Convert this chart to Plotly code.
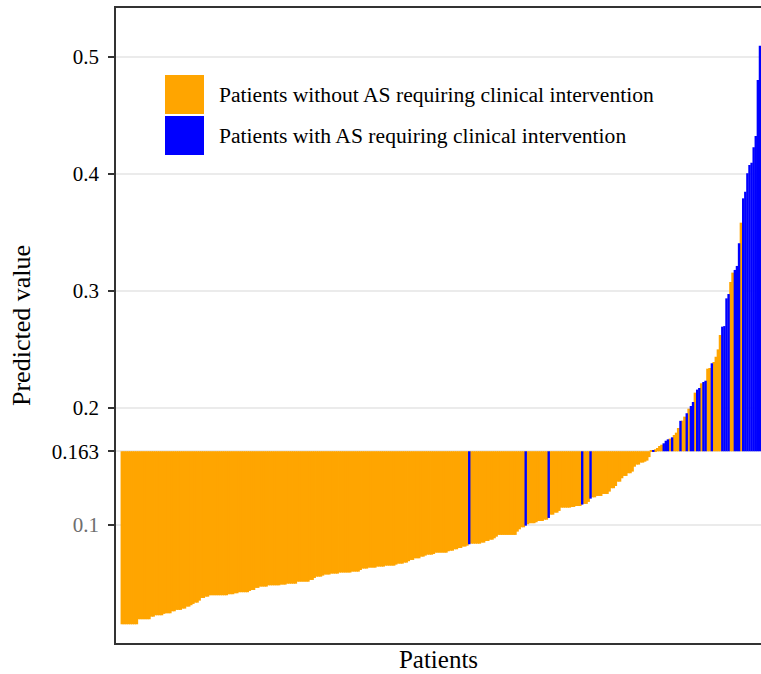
import plotly.graph_objects as go

# ---------------- data ----------------
threshold = 0.163

# predicted values, patients WITHOUT AS requiring clinical intervention
without_as = [
    0.0151, 0.0151, 0.0151, 0.0151, 0.0151, 0.0151, 0.0151, 0.0151,
    0.0194, 0.0194, 0.0194, 0.0194, 0.0194, 0.0194,
    0.0216, 0.0216,
    0.0228, 0.0228, 0.0228, 0.0228,
    0.0240,
    0.0245, 0.0245, 0.0245,
    0.0262, 0.0262,
    0.0274, 0.0274, 0.0274,
    0.0285, 0.0285,
    0.0302, 0.0302,
    0.0314,
    0.0325,
    0.0336, 0.0336,
    0.0353,
    0.0376, 0.0376,
    0.0387, 0.0387,
    0.0399, 0.0399, 0.0399, 0.0399, 0.0399, 0.0399, 0.0399, 0.0399, 0.0399,
    0.0408, 0.0408, 0.0408,
    0.0416, 0.0416,
    0.0425, 0.0425, 0.0425, 0.0425, 0.0425,
    0.0436,
    0.0444, 0.0444,
    0.0462, 0.0462,
    0.0473, 0.0473, 0.0473, 0.0473,
    0.0484, 0.0484, 0.0484, 0.0484, 0.0484, 0.0484,
    0.0490, 0.0490, 0.0490,
    0.0498, 0.0498, 0.0498, 0.0498, 0.0498,
    0.0515, 0.0515, 0.0515, 0.0515, 0.0515, 0.0515,
    0.0530, 0.0530,
    0.0547,
    0.0558, 0.0558, 0.0558,
    0.0567,
    0.0576, 0.0576, 0.0576,
    0.0584, 0.0584, 0.0584, 0.0584,
    0.0593, 0.0593, 0.0593, 0.0593, 0.0593, 0.0593,
    0.0601, 0.0601, 0.0601, 0.0601,
    0.0615,
    0.0627, 0.0627, 0.0627,
    0.0635, 0.0635, 0.0635, 0.0635,
    0.0644, 0.0644, 0.0644, 0.0644,
    0.0652, 0.0652, 0.0652, 0.0652, 0.0652,
    0.0661,
    0.0669, 0.0669, 0.0669,
    0.0678, 0.0678,
    0.0690,
    0.0701, 0.0701,
    0.0715, 0.0715, 0.0715,
    0.0729, 0.0729,
    0.0738,
    0.0746, 0.0746, 0.0746,
    0.0752,
    0.0763, 0.0763, 0.0763, 0.0763, 0.0763, 0.0763,
    0.0775,
    0.0780, 0.0780,
    0.0792, 0.0792,
    0.0803, 0.0803,
    0.0815, 0.0815,
    0.0823,
    0.0840, 0.0840, 0.0840, 0.0840, 0.0840,
    0.0849, 0.0849,
    0.0863, 0.0863,
    0.0874, 0.0874,
    0.0886,
    0.0900,
    0.0915, 0.0915, 0.0915, 0.0915, 0.0915, 0.0915, 0.0915, 0.0915, 0.0915,
    0.0943,
    0.0963,
    0.0980, 0.0980,
    0.1006,
    0.1015, 0.1015, 0.1015,
    0.1023,
    0.1034, 0.1034, 0.1034,
    0.1045, 0.1045,
    0.1088, 0.1088,
    0.1105, 0.1105,
    0.1120,
    0.1148, 0.1148, 0.1148, 0.1148, 0.1148,
    0.1154, 0.1154,
    0.1162, 0.1162, 0.1162,
    0.1180, 0.1180,
    0.1197,
    0.1236, 0.1236,
    0.1248, 0.1248, 0.1248,
    0.1265, 0.1265, 0.1265,
    0.1285,
    0.1314, 0.1314,
    0.1333,
    0.1370, 0.1370,
    0.1399,
    0.1419, 0.1419,
    0.1442, 0.1442,
    0.1456,
    0.1498,
    0.1516, 0.1516,
    0.1533, 0.1533, 0.1541,
    0.1550, 0.1580,
    0.1636, 0.1647, 0.1658, 0.1675, 0.1686, 0.1738, 0.1769,
    0.1789, 0.1829, 0.1892, 0.1926, 0.1994, 0.2131, 0.2211, 0.2336,
    0.2342, 0.2393, 0.2438, 0.2501, 0.2624, 0.3077, 0.3157, 0.3584,
]

# predicted values, patients WITH AS requiring clinical intervention
with_as = [
    0.0835, 0.0994, 0.1060, 0.1174, 0.1225, 0.1638, 0.1698, 0.1720,
    0.1732, 0.1749, 0.1890, 0.1955, 0.2017, 0.2051, 0.2157,
    0.2171, 0.2222, 0.2233, 0.2382, 0.2695, 0.2700, 0.2937, 0.2974,
    0.3180, 0.3214, 0.3408, 0.3792, 0.3849, 0.4006, 0.4077, 0.4097,
    0.4228, 0.4325, 0.4803, 0.5097,
]

tick_vals = [0.1, 0.163, 0.2, 0.3, 0.4, 0.5]
tick_text = ['<span style="color:#6e6e6e">0.1</span>', "0.163", "0.2", "0.3", "0.4", "0.5"]

legend_labels = [
    "Patients without AS requiring clinical intervention",
    "Patients with AS requiring clinical intervention",
]
colors = ["#FFA500", "#0000FF"]
bar_widths = [1.4, 1.15]   # slight overlap hides anti-aliasing seams

# ---------------- build ----------------
patients = sorted([(v, 0) for v in without_as] + [(v, 1) for v in with_as],
                  key=lambda t: t[0])
N = len(patients)

fig = go.Figure()
for g in (0, 1):
    xs = [i for i, (v, gg) in enumerate(patients) if gg == g]
    ys = [v - threshold for (v, gg) in patients if gg == g]
    fig.add_trace(go.Bar(
        x=xs, y=ys, base=threshold, width=bar_widths[g],
        marker=dict(color=colors[g], line=dict(width=0)),
        name=legend_labels[g], showlegend=False,
    ))

FONT = "Liberation Serif, Times New Roman, serif"
W, H = 761, 674
ml, mr, mt, mb = 116, 0, 8, 31
pw = W - ml - mr
ph = H - mt - mb

scale = (pw - 5) / N
xmin = -0.5 - 5 / scale
xmax = N - 0.5


def px2paper_x(px):
    return (px - ml) / pw


def px2paper_y(py):
    return (H - mb - py) / ph


shapes = []
annotations = []
key_boxes = [(75, 114), (116, 155)]
for k, (ytop, ybot) in enumerate(key_boxes):
    shapes.append(dict(type="rect", xref="paper", yref="paper",
                       x0=px2paper_x(165), x1=px2paper_x(204),
                       y0=px2paper_y(ybot), y1=px2paper_y(ytop),
                       fillcolor=colors[k], line=dict(width=0)))
    annotations.append(dict(xref="paper", yref="paper",
                            x=px2paper_x(217), y=px2paper_y((ytop + ybot) / 2),
                            xanchor="left", yanchor="middle", showarrow=False,
                            text=legend_labels[k],
                            font=dict(family=FONT, size=21.6, color="black")))

fig.update_layout(
    width=W, height=H,
    margin=dict(l=ml, r=mr, t=mt, b=mb),
    paper_bgcolor="white", plot_bgcolor="white",
    barmode="overlay",
    showlegend=False,
    shapes=shapes, annotations=annotations,
    font=dict(family=FONT, color="black"),
)
fig.update_xaxes(
    range=[xmin, xmax], showticklabels=False, ticks="", showgrid=False,
    zeroline=False, showline=True, linecolor="#333333", linewidth=1.5,
    mirror=True,
    title=dict(text="Patients", font=dict(family=FONT, size=25, color="black"),
               standoff=7),
)
fig.update_yaxes(
    range=[-0.0009, 0.5419], tickmode="array", tickvals=tick_vals,
    ticktext=tick_text, ticks="outside", ticklen=6, tickwidth=1.5,
    tickcolor="#333333", ticklabelstandoff=5,
    tickfont=dict(family=FONT, size=21, color="black"),
    showgrid=True, gridcolor="#EBEBEB", gridwidth=1.5, zeroline=False,
    showline=True, linecolor="#333333", linewidth=1.5, mirror=False,
    title=dict(text="Predicted value",
               font=dict(family=FONT, size=26, color="black"), standoff=14),
)

fig.write_html("out.html")
